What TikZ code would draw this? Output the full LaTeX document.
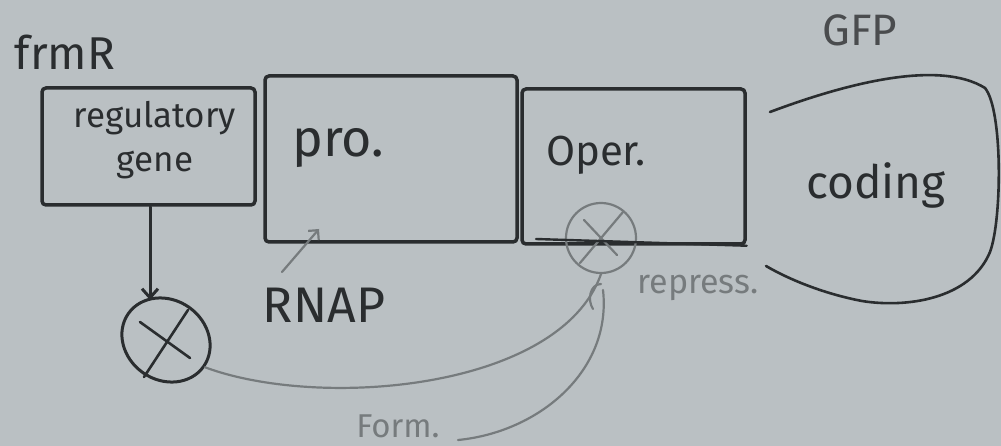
\documentclass[tikz,border=0pt]{standalone}
\usepackage{fontspec}
\setmainfont{Fira Sans}
\usetikzlibrary{shapes.geometric,arrows.meta}
\definecolor{board}{RGB}{186,192,195}
\definecolor{ink}{RGB}{42,45,47}
\definecolor{pale}{RGB}{118,123,125}
\tikzset{
  box/.style={draw=ink, line width=3.5pt, rounded corners=4pt, inner sep=0pt},
  ink text/.style={text=ink, align=center, inner sep=0pt},
  small text/.style={text=pale, inner sep=0pt},
  pale line/.style={draw=pale, line width=2.2pt, line cap=round},
  ink line/.style={draw=ink, line width=3pt, line cap=round}
}
\begin{document}
\begin{tikzpicture}[x=1pt,y=-1pt]
\fill[board] (0,0) rectangle (1001,446);
\useasboundingbox (0,0) rectangle (1001,446);

% boxes
\node[box, minimum width=213pt, minimum height=117pt] (reg) at (148.5,146.5) {};
\node[ink text, font=\fontsize{35}{44}\selectfont] (regt) at (155,140) {regulatory\\gene};
\node[box, minimum width=252pt, minimum height=166pt] (pro) at (391,159) {};
\node[ink text, font=\fontsize{52}{56}\selectfont] (prot) at (338,148) {pro.};
\node[box, minimum width=223pt, minimum height=155pt] (oper) at (633.5,166.5) {};
\node[ink text, font=\fontsize{42}{46}\selectfont] (opert) at (596,155) {Oper.};

% coding region
\draw[ink line, line width=2.6pt] (770,112) .. controls (850,82) and (940,60) .. (985,88)
  .. controls (1003,110) and (1002,220) .. (990,252)
  .. controls (970,300) and (905,308) .. (862,301)
  .. controls (825,294) and (790,280) .. (766,266);
\node[ink text, font=\fontsize{46}{52}\selectfont] (cod) at (876,185) {coding};

% labels
\node[ink text, font=\fontsize{46}{52}\selectfont] (frmr) at (65,52) {frmR};
\node[ink text, text=ink!85, font=\fontsize{44}{50}\selectfont] (gfp) at (860,30) {GFP};
\node[ink text, font=\fontsize{50}{56}\selectfont] (rnap) at (324,305) {RNAP};
\node[small text, font=\fontsize{34}{40}\selectfont] (rep) at (698,288) {repress.};
\node[small text, font=\fontsize{33}{40}\selectfont] (form) at (398,426) {Form.};

% repressor
\node[ellipse, draw=ink, line width=3pt, minimum width=92pt, minimum height=80pt, rotate=-35] (R) at (166,340) {};
\draw[ink line, line width=2.6pt] (140,322) -- (190,358);
\draw[ink line, line width=2.6pt] (188,310) -- (144,377);

% blocking site on operator
\node[circle, draw=pale, line width=2.2pt, minimum size=70pt] (blk) at (601,238) {};
\draw[pale line] (584,220) -- (617,255);
\draw[pale line] (623,212) -- (580,263);
\draw[ink line, line width=2.4pt] (536,239) -- (oper.south east);

% connectors
\draw[ink line, -{Straight Barb[length=9pt,width=16pt]}] (reg.south -| 150,0) -- (150,300);
\coordinate (rs) at (282,272);
\draw[pale line, -{Straight Barb[length=7pt,width=14pt]}] (rs) -- (319,229);
\draw[pale line] (R.east) .. controls (320,410) and (560,390) .. (blk.south);
\coordinate (fe) at (458,440);
\draw[pale line] (603,290) .. controls (612,370) and (540,432) .. (fe);
\draw[pale line] (601,284) .. controls (590,284) and (587,300) .. (593,309);
\end{tikzpicture}
\end{document}
